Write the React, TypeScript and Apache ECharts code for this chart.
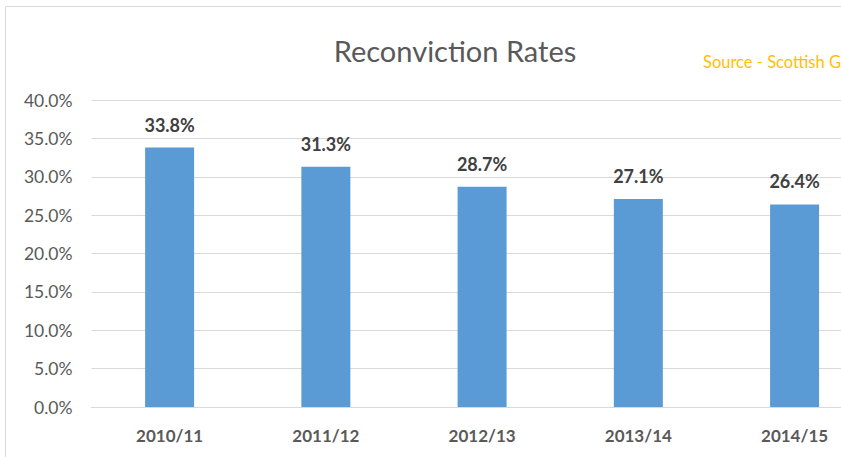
import React, { useEffect, useRef } from "react";
import * as echarts from "echarts";

const categories = ["2010/11", "2011/12", "2012/13", "2013/14", "2014/15"];
const rates = [33.8, 31.3, 28.7, 27.1, 26.4];
const titleText = "Reconviction Rates";
const sourceText = "Source - Scottish G";

const FONT = "Lato, 'Open Sans', sans-serif";

export default function App() {
  const ref = useRef<HTMLDivElement>(null);
  useEffect(() => {
    document.body.style.margin = "0";
    const chart = echarts.init(ref.current!, null, { renderer: "svg" });
    chart.setOption({
      animation: false,
      backgroundColor: "#ffffff",
      textStyle: { fontFamily: FONT },
      graphic: [
        {
          type: "rect",
          shape: { x: 5.5, y: 6.5, width: 900, height: 460 },
          style: { fill: "none", stroke: "#d9d9d9", lineWidth: 1 },
          silent: true,
          z: -1,
        },
        {
          type: "text",
          x: 455,
          y: 50,
          style: {
            text: titleText,
            fill: "#595959",
            font: `29px ${FONT}`,
            textAlign: "center",
            textVerticalAlign: "middle",
          },
        },
        {
          type: "text",
          x: 703,
          y: 62,
          style: {
            text: sourceText,
            fill: "#FFC000",
            font: `16.5px ${FONT}`,
            textAlign: "left",
            textVerticalAlign: "middle",
          },
        },
      ],
      grid: { left: 91.5, right: 7.3, top: 100, bottom: 50, containLabel: false },
      xAxis: {
        type: "category",
        data: categories,
        axisLine: { show: true, lineStyle: { color: "#d9d9d9", width: 1 } },
        axisTick: { show: false },
        axisLabel: {
          color: "#595959",
          fontSize: 17,
          fontWeight: "bold",
          fontFamily: FONT,
          margin: 20,
        },
      },
      yAxis: {
        type: "value",
        min: 0,
        max: 40,
        interval: 5,
        axisLine: { show: false },
        axisTick: { show: false },
        splitLine: { lineStyle: { color: "#d9d9d9", width: 1 } },
        axisLabel: {
          color: "#595959",
          fontSize: 17.5,
          fontFamily: FONT,
          margin: 19,
          formatter: (v: number) => v.toFixed(1) + "%",
        },
      },
      series: [
        {
          type: "bar",
          data: rates,
          barWidth: 49,
          itemStyle: { color: "#5B9BD5" },
          label: {
            show: true,
            position: "top",
            distance: 14,
            color: "#404040",
            fontSize: 18,
            fontWeight: "bold",
            fontFamily: FONT,
            formatter: (p: any) => p.value.toFixed(1) + "%",
          },
        },
      ],
    });
    return () => chart.dispose();
  }, []);
  return (
    <div style={{ position: "fixed", left: 0, top: 0, width: 841, height: 457, overflow: "hidden", background: "#fff" }}>
      <div ref={ref} style={{ width: 880, height: 457 }} />
    </div>
  );
}
